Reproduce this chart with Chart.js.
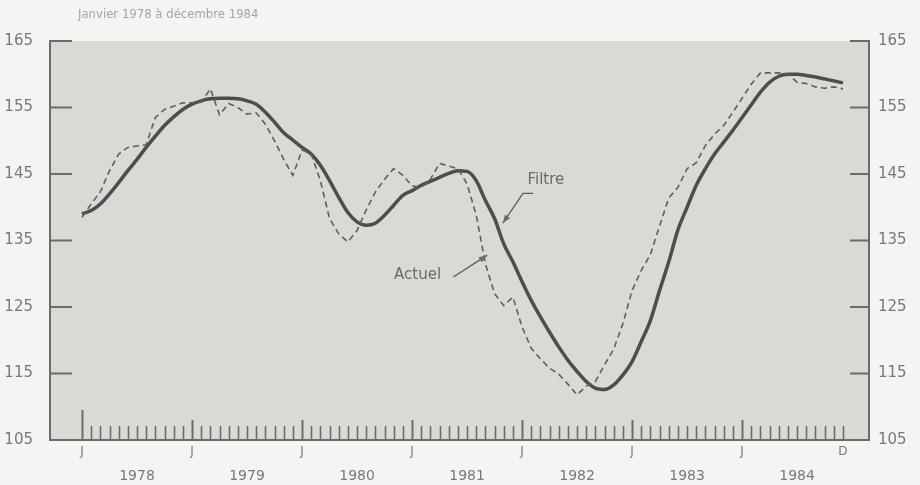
<!DOCTYPE html>
<html>
<head>
<meta charset="utf-8">
<script src="https://cdn.jsdelivr.net/npm/chart.js@4.4.1/dist/chart.umd.min.js"></script>
<style>
  html, body { margin: 0; padding: 0; background: #f4f4f2; }
  #wrap { position: relative; width: 920px; height: 485px; }
  #subtitle {
    position: absolute; left: 78px; top: 7px;
    font: 11.7px "DejaVu Sans", sans-serif; color: #a4a4a0;
  }
</style>
</head>
<body>
<div id="wrap">
  <canvas id="chart" width="920" height="485"></canvas>
  <div id="subtitle">Janvier 1978 à décembre 1984</div>
</div>
<script>
// Data, monthly Jan 1978 -> Dec 1984
const years = [1978, 1979, 1980, 1981, 1982, 1983, 1984];
const monthLetters = ["J", "F", "M", "A", "M", "J", "J", "A", "S", "O", "N", "D"];
const months = years.flatMap((yr) => monthLetters.map((m) => m + " " + yr));
const yTicks = [105, 115, 125, 135, 145, 155, 165];

// "Filtre" (solid)
const filtreValues = [
  139.0, 139.5, 140.5, 142.0, 143.7, 145.5, 147.2, 149.0, 150.7, 152.3, 153.6, 154.7,
  155.5, 156.0, 156.3, 156.4, 156.4, 156.3, 156.0, 155.5, 154.3, 152.8, 151.2, 150.1,
  149.0, 148.0, 146.3, 144.0, 141.5, 139.2, 137.8, 137.3, 137.6, 138.8, 140.3, 141.8,
  142.5, 143.3, 143.9, 144.5, 145.1, 145.5, 145.4, 144.0, 141.0, 138.3, 134.5, 131.8,
  128.8, 126.0, 123.5, 121.2, 119.0, 117.0, 115.3, 113.8, 112.8, 112.6, 113.3, 114.8,
  116.8, 119.8, 123.0, 127.5, 131.8, 136.6, 140.0, 143.3, 145.8, 148.0, 149.8, 151.6,
  153.5, 155.4, 157.3, 158.8, 159.7, 160.0, 160.0, 159.8, 159.6, 159.3, 159.0, 158.7
];

// "Actuel" (dashed)
const actuelValues = [
  138.5, 140.5, 142.3, 145.5, 148.0, 149.0, 149.2, 149.4, 153.5, 154.7, 155.2, 155.7,
  155.7, 155.8, 157.8, 153.9, 155.6, 155.0, 154.0, 154.2, 152.5, 150.0, 147.2, 144.8,
  148.6, 148.0, 144.0, 138.3, 136.0, 134.8, 136.5, 139.6, 142.3, 144.2, 145.8, 144.8,
  143.2, 143.0, 144.2, 146.6, 146.2, 145.8, 143.5, 138.8, 131.5, 127.0, 125.2, 126.5,
  122.0, 118.8, 117.2, 115.8, 114.9, 113.4, 111.8, 113.1, 113.8, 116.3, 118.7, 122.5,
  127.5, 130.5, 132.9, 137.2, 141.4, 143.0, 145.8, 146.7, 149.3, 151.0, 152.3, 154.3,
  156.4, 158.5, 160.2, 160.2, 160.2, 160.0, 158.8, 158.6, 158.1, 157.9, 158.1, 157.8
];

const axisColor = "#6b6b69";
const labelColor = "#787876";
const fontFamily = "'DejaVu Sans', sans-serif";

// grey plotting area
const plotBg = {
  id: "plotBg",
  beforeDraw(chart) {
    const { ctx, chartArea: a } = chart;
    ctx.save();
    ctx.fillStyle = "#d9dad6";
    ctx.fillRect(a.left, a.top, a.right - a.left, a.bottom - a.top);
    ctx.restore();
  }
};

// ticks pointing into the plot
const innerTicks = {
  id: "innerTicks",
  afterDraw(chart) {
    const { ctx, chartArea: a, scales } = chart;
    const line = (x1, y1, x2, y2) => {
      ctx.beginPath(); ctx.moveTo(x1, y1); ctx.lineTo(x2, y2); ctx.stroke();
    };
    ctx.save();
    ctx.strokeStyle = axisColor;
    ctx.lineWidth = 2;
    yTicks.forEach((v) => {
      if (v === 105) return;
      const py = scales.y.getPixelForValue(v);
      line(a.left, py, a.left + 22, py);
      line(a.right - 19, py, a.right, py);
    });
    months.forEach((m, i) => {
      const px = Math.round(scales.x.getPixelForValue(i)) + 0.5;
      const len = i === 0 ? 30 : (i % 12 === 0 ? 20 : 14);
      ctx.lineWidth = i % 12 === 0 ? 2 : 1.6;
      line(px, a.bottom, px, a.bottom - len);
    });
    ctx.restore();
  }
};

// "Filtre" / "Actuel" call-outs, placed in data units
const callouts = [
  { text: "Filtre", at: [50.6, 144.1], path: [[49.2, 142.1], [48.1, 142.1], [45.9, 137.6]] },
  { text: "Actuel", at: [36.6, 129.8], path: [[40.5, 129.5], [44.2, 132.8]] }
];
const calloutPlugin = {
  id: "callouts",
  afterDatasetsDraw(chart) {
    const { ctx, scales: { x, y } } = chart;
    ctx.save();
    ctx.fillStyle = "#6a6a68";
    ctx.strokeStyle = "#5c5c5a";
    ctx.lineWidth = 1.3;
    ctx.font = "15px " + fontFamily;
    ctx.textAlign = "center";
    ctx.textBaseline = "middle";
    callouts.forEach((c) => {
      ctx.fillText(c.text, x.getPixelForValue(c.at[0]), y.getPixelForValue(c.at[1]));
      const pts = c.path.map(([px, py]) => [x.getPixelForValue(px), y.getPixelForValue(py)]);
      ctx.beginPath();
      pts.forEach(([px, py], i) => (i ? ctx.lineTo(px, py) : ctx.moveTo(px, py)));
      ctx.stroke();
      const [x1, y1] = pts[pts.length - 2];
      const [x2, y2] = pts[pts.length - 1];
      const ang = Math.atan2(y2 - y1, x2 - x1);
      ctx.beginPath();
      ctx.moveTo(x2, y2);
      ctx.lineTo(x2 - 9 * Math.cos(ang - 0.35), y2 - 9 * Math.sin(ang - 0.35));
      ctx.lineTo(x2 - 9 * Math.cos(ang + 0.35), y2 - 9 * Math.sin(ang + 0.35));
      ctx.closePath();
      ctx.fill();
    });
    ctx.restore();
  }
};

const monthTicks = (scale) => { scale.ticks = months.map((m, i) => ({ value: i })); };

new Chart(document.getElementById("chart"), {
  type: "line",
  data: {
    datasets: [
      {
        label: "Actuel",
        data: actuelValues.map((v, i) => ({ x: i, y: v })),
        borderColor: "#5e5e5c",
        borderWidth: 1.6,
        borderDash: [6, 4],
        pointRadius: 0,
        tension: 0,
        fill: false
      },
      {
        label: "Filtre",
        data: filtreValues.map((v, i) => ({ x: i, y: v })),
        borderColor: "#4d4d4b",
        borderWidth: 3.5,
        pointRadius: 0,
        cubicInterpolationMode: "monotone",
        fill: false
      }
    ]
  },
  options: {
    responsive: false,
    animation: false,
    layout: { padding: { top: 41, left: 0, right: 0, bottom: 0 } },
    plugins: {
      legend: { display: false },
      tooltip: { enabled: false }
    },
    scales: {
      x: {
        type: "linear",
        position: "bottom",
        weight: 0,
        min: -3.49,
        max: 85.84,
        afterBuildTicks: monthTicks,
        afterFit: (s) => { s.height = 22; },
        grid: { display: false, drawTicks: false },
        border: { display: true, color: axisColor, width: 2 },
        ticks: {
          autoSkip: false,
          maxRotation: 0,
          padding: 5,
          color: labelColor,
          font: { family: fontFamily, size: 12 },
          callback: (v) => (v % 12 === 0 ? "J" : (v === 83 ? "D" : ""))
        }
      },
      x2: {
        type: "linear",
        position: "bottom",
        weight: 1,
        min: -3.49,
        max: 85.84,
        afterBuildTicks: monthTicks,
        afterFit: (s) => { s.height = 23; },
        grid: { display: false, drawTicks: false },
        border: { display: false },
        ticks: {
          autoSkip: false,
          maxRotation: 0,
          padding: 6,
          color: labelColor,
          font: { family: fontFamily, size: 14 },
          callback: (v) => (v % 12 === 6 ? String(years[Math.floor(v / 12)]) : "")
        }
      },
      y: {
        position: "left",
        min: 105,
        max: 165,
        afterBuildTicks: (s) => { s.ticks = yTicks.map((v) => ({ value: v })); },
        afterFit: (s) => { s.width = 50; },
        grid: { display: false, drawTicks: false },
        border: { display: true, color: axisColor, width: 2 },
        ticks: {
          padding: 17,
          color: labelColor,
          font: { family: fontFamily, size: 15 }
        }
      },
      y2: {
        position: "right",
        min: 105,
        max: 165,
        afterBuildTicks: (s) => { s.ticks = yTicks.map((v) => ({ value: v })); },
        afterFit: (s) => { s.width = 51; },
        grid: { display: false, drawTicks: false },
        border: { display: true, color: axisColor, width: 2 },
        ticks: {
          padding: 9,
          color: labelColor,
          font: { family: fontFamily, size: 15 }
        }
      }
    }
  },
  plugins: [plotBg, innerTicks, calloutPlugin]
});
</script>
</body>
</html>
